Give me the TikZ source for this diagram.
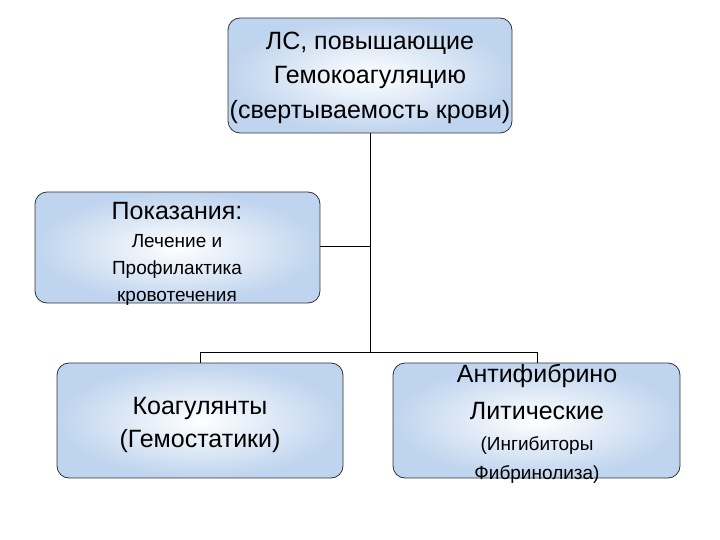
\documentclass[tikz,border=0pt]{standalone}
\usepackage{fontspec}
\setmainfont{Liberation Sans}
\begin{document}
\begin{tikzpicture}[x=1pt,y=-1pt]
\useasboundingbox (0,0) rectangle (720,540);
\definecolor{edgeblue}{HTML}{BFD4EE}
\tikzset{
 box/.style={draw=black!80,line width=0.8pt,rounded corners=12pt,inner color=white,outer color=edgeblue},
 big/.style={font=\fontsize{25}{28}\selectfont,inner sep=0pt},
 small/.style={font=\fontsize{19}{22}\selectfont,inner sep=0pt},
 link/.style={draw=black,line width=1pt}
}
\path[box] (228,18) rectangle (512,133);
\path[box] (35,192) rectangle (320,303);
\path[box] (57,363) rectangle (343,478);
\path[box] (393,363) rectangle (680,478);
\coordinate (topb) at (370,133);
\coordinate (leftr) at (320,246);
\coordinate (mid) at (370,246);
\coordinate (junc) at (370,352);
\coordinate (jl) at (200,352);
\coordinate (jr) at (537,352);
\coordinate (bl) at (200,363);
\coordinate (br) at (537,363);
\draw[link] (topb) -- (junc);
\draw[link] (leftr) -- (mid);
\draw[link] (jl) -- (jr);
\draw[link] (jl) -- (bl);
\draw[link] (jr) -- (br);
\node[big] (t1) at (370,43) {ЛС, повышающие};
\node[big] (t2) at (370,77) {Гемокоагуляцию};
\node[big] (t3) at (370,112) {(свертываемость крови)};
\node[big] (l1) at (177,211) {Показания:};
\node[small] (l2) at (177,241) {Лечение и};
\node[small] (l3) at (177,270) {Профилактика};
\node[small] (l4) at (177,298) {кровотечения};
\node[big] (b1) at (200,408) {Коагулянты};
\node[big] (b2) at (200,441) {(Гемостатики)};
\node[big] (r1) at (537,376) {Антифибрино};
\node[big] (r2) at (537,411) {Литические};
\node[small] (r3) at (537,446) {(Ингибиторы};
\node[small] (r4) at (537,475) {Фибринолиза)};
\end{tikzpicture}
\end{document}
